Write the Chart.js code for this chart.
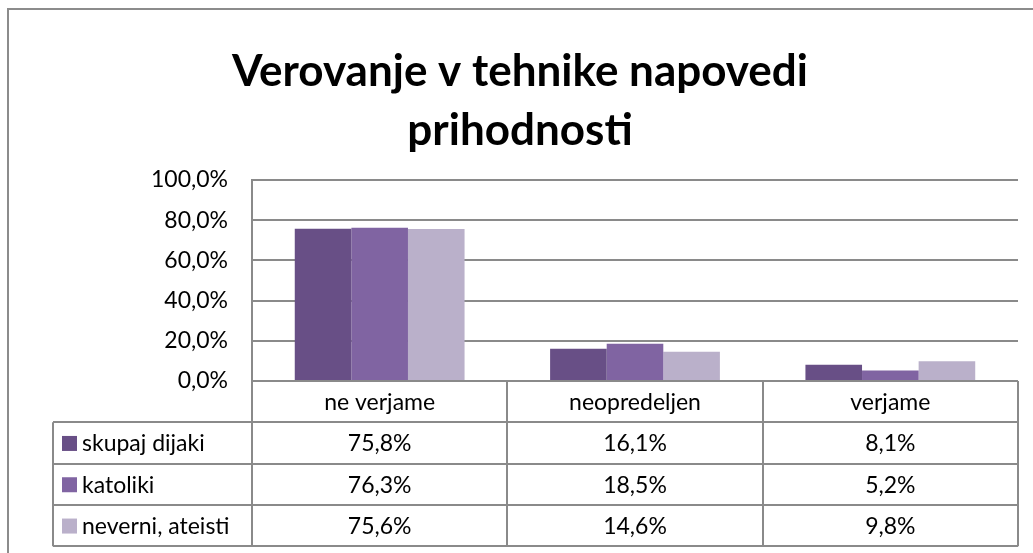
<!DOCTYPE html>
<html>
<head>
<meta charset="utf-8">
<script src="https://cdn.jsdelivr.net/npm/chart.js@4/dist/chart.umd.min.js"></script>
<style>
  html, body { margin: 0; padding: 0; background: #fff; }
  #wrap { position: relative; width: 1033px; height: 553px; }
</style>
</head>
<body>
<div id="wrap"><canvas id="c" width="1033" height="553"></canvas></div>
<script>
const titleLines = ['Verovanje v tehnike napovedi', 'prihodnosti'];
const categories = ['ne verjame', 'neopredeljen', 'verjame'];
const seriesNames = ['skupaj dijaki', 'katoliki', 'neverni, ateisti'];
const skupajDijaki = [75.8, 16.1, 8.1];
const katoliki = [76.3, 18.5, 5.2];
const neverniAteisti = [75.6, 14.6, 9.8];
const seriesColors = ['#684F86', '#8064A2', '#BAB0CA'];
const yTicks = [0, 20, 40, 60, 80, 100];

const FONT = 'Lato, "Open Sans", sans-serif';
const GRID = '#8a8a8a';
const fmt = v => v.toFixed(1).replace('.', ',') + '%';

const seriesValues = [skupajDijaki, katoliki, neverniAteisti];

const tablePlugin = {
  id: 'dataTable',
  beforeDraw(chart) {
    const ctx = chart.ctx;
    ctx.save();
    ctx.strokeStyle = '#8c8c8c';
    ctx.lineWidth = 2;
    ctx.beginPath();
    ctx.moveTo(8, 553);
    ctx.lineTo(8, 9);
    ctx.lineTo(1033, 9);
    ctx.stroke();
    ctx.restore();
  },
  afterDraw(chart) {
    const { ctx, chartArea } = chart;
    const x = chart.scales.x;
    const n = categories.length;
    const colW = (chartArea.right - chartArea.left) / n;
    const top = chartArea.bottom;
    const rowH = 41.3;
    const legendLeft = chartArea.left - 199;
    const edges = [];
    for (let i = 0; i < n; i++) edges.push(x.getPixelForValue(i) - colW / 2);
    edges.push(x.getPixelForValue(n - 1) + colW / 2);
    const rows = seriesNames.length;
    const bottom = top + rowH * (rows + 1);

    ctx.save();
    ctx.strokeStyle = GRID;
    ctx.lineWidth = 2;
    ctx.beginPath();
    edges.forEach(ex => {
      const px = Math.round(ex);
      ctx.moveTo(px, top);
      ctx.lineTo(px, bottom);
    });
    ctx.moveTo(Math.round(legendLeft), top + rowH);
    ctx.lineTo(Math.round(legendLeft), bottom);
    for (let r = 1; r <= rows + 1; r++) {
      const py = Math.round(top + rowH * r);
      ctx.moveTo(Math.round(legendLeft), py);
      ctx.lineTo(Math.round(edges[n]), py);
    }
    ctx.stroke();

    ctx.fillStyle = '#000';
    ctx.font = '23px ' + FONT;
    ctx.textBaseline = 'middle';
    ctx.textAlign = 'center';
    categories.forEach((c, i) => {
      ctx.fillText(c, x.getPixelForValue(i), top + rowH / 2 + 1);
    });
    seriesNames.forEach((s, r) => {
      const cy = top + rowH * (r + 1) + rowH / 2 + 1;
      ctx.fillStyle = seriesColors[r];
      ctx.fillRect(legendLeft + 9, cy - 8, 15, 15);
      ctx.fillStyle = '#000';
      ctx.textAlign = 'left';
      ctx.fillText(s, legendLeft + 29, cy);
      ctx.textAlign = 'center';
      seriesValues[r].forEach((v, i) => {
        ctx.fillText(fmt(v), x.getPixelForValue(i), cy);
      });
    });
    ctx.restore();
  }
};

new Chart(document.getElementById('c'), {
  type: 'bar',
  data: {
    labels: categories,
    datasets: seriesNames.map((name, i) => ({
      label: name,
      data: seriesValues[i],
      backgroundColor: seriesColors[i],
      borderWidth: 0,
      categoryPercentage: 0.665,
      barPercentage: 1.0
    }))
  },
  options: {
    responsive: false,
    animation: false,
    layout: { padding: { left: 22, right: 15, top: 0, bottom: 172 } },
    plugins: {
      legend: { display: false },
      tooltip: { enabled: false },
      title: {
        display: true,
        text: titleLines,
        color: '#000',
        font: { family: FONT, size: 44, weight: 'bold', lineHeight: 1.33 },
        padding: { top: 43, bottom: 20 }
      }
    },
    scales: {
      x: { display: false },
      y: {
        min: 0,
        max: 100,
        afterFit(scale) { scale.width = 230; },
        afterBuildTicks(scale) { scale.ticks = yTicks.map(v => ({ value: v })); },
        ticks: {
          color: '#000',
          font: { family: FONT, size: 23 },
          padding: 24,
          callback: v => fmt(v)
        },
        grid: { color: GRID, lineWidth: 2, drawTicks: false },
        border: { display: true, color: GRID, width: 2 }
      }
    }
  },
  plugins: [tablePlugin]
});
</script>
</body>
</html>
